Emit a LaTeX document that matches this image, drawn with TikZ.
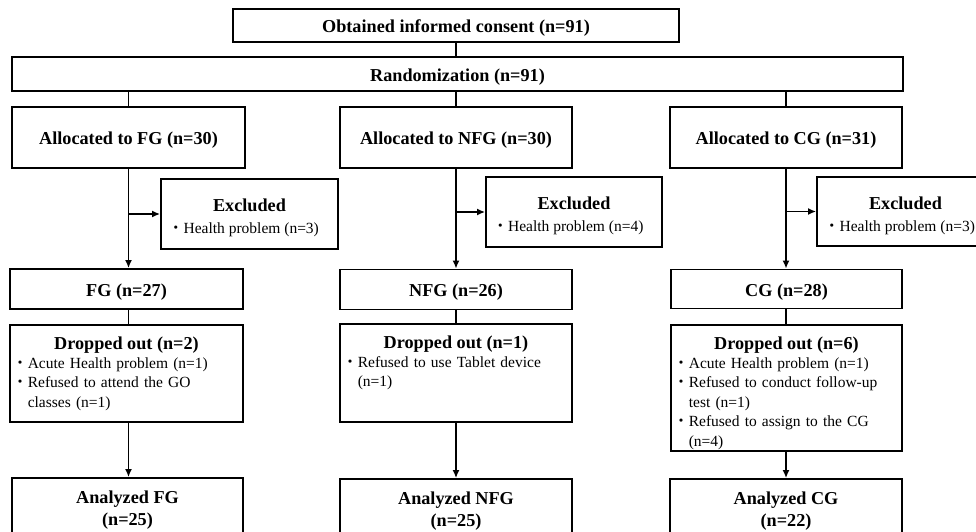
\documentclass[tikz,border=0pt]{standalone}
\usepackage{fontspec}
\setmainfont{Liberation Serif}
\newfontfamily\jpfont{Noto Sans CJK JP}
\usetikzlibrary{arrows.meta,calc}
\newcommand{\bigtxt}{\fontsize{18.2}{22}\selectfont\bfseries}
\newcommand{\smalltxt}{\fontsize{15.5}{19.5}\selectfont\mdseries}
\newcommand{\dotitem}[1]{\par\hangindent=15.5pt\hangafter=1\noindent\strut{\jpfont ・}#1\par}
\newcommand{\nl}{\hfil\break}
\newcommand{\exitem}[1]{\rule{0pt}{21pt}Excluded\\{\smalltxt{\jpfont ・}Health problem (n=#1)\hspace*{12pt}}}

\begin{document}
\begin{tikzpicture}[x=1pt,y=-1pt,
    box/.style={draw, line width=1.8pt, inner sep=0pt, align=center, font=\bigtxt},
    onebox/.style={box, text height=15.5pt, text depth=1pt},
    link/.style={line width=1.6pt},
    arr/.style={line width=1.6pt, -{Latex[length=8pt,width=7pt]}},
    list/.style={anchor=north west, text width=226pt, inner sep=0pt, font=\smalltxt}]
        \useasboundingbox (0,0) rectangle (976,531);
        \clip (0,0) rectangle (976,531);
        % top of the chart
        \node[onebox, minimum width=446pt, minimum height=33pt] (consent) at (456,25.5) {Obtained informed consent (n=91)};
        \node[onebox, minimum width=891pt, minimum height=34pt] (rand) at (457.5,74) {Randomization (n=91)};
        % allocation
        \node[onebox, minimum width=233pt, minimum height=61pt] (allocFG) at (128.5,137.5) {Allocated to FG (n=30)};
        \node[onebox, minimum width=232pt, minimum height=61pt] (allocNFG) at (456,137.5) {Allocated to NFG (n=30)};
        \node[onebox, minimum width=232pt, minimum height=61pt] (allocCG) at (786,137.5) {Allocated to CG (n=31)};
        % excluded
        \node[box, minimum width=177pt, minimum height=70pt] (exclFG) at (249.5,214) {\exitem{3}};
        \node[box, minimum width=176pt, minimum height=70pt] (exclNFG) at (574,212) {\exitem{4}};
        \node[box, minimum width=177pt, minimum height=69pt] (exclCG) at (905.5,211.5) {\exitem{3}};
        % groups
        \node[onebox, minimum width=233pt, minimum height=40pt] (FG) at (126.5,289) {FG (n=27)};
        \node[onebox, minimum width=232pt, minimum height=40pt] (NFG) at (456,289.5) {NFG (n=26)};
        \node[onebox, minimum width=231pt, minimum height=39pt] (CG) at (786.5,289) {CG (n=28)};
        % dropped out
        \node[box, minimum width=233pt, minimum height=97pt] (dropFG) at (126.5,373.5) {};
        \node[box, minimum width=232pt, minimum height=98pt] (dropNFG) at (456,373) {};
        \node[box, minimum width=231pt, minimum height=126pt] (dropCG) at (786.5,388) {};
        \node[font=\bigtxt] (dropFGhead) at ($(dropFG.north)+(0,21)$) {Dropped out (n=2)};
        \node[font=\bigtxt] (dropNFGhead) at ($(dropNFG.north)+(0,21)$) {Dropped out (n=1)};
        \node[font=\bigtxt] (dropCGhead) at ($(dropCG.north)+(0,21)$) {Dropped out (n=6)};
        \node[list] (dropFGlist) at ($(dropFG.north west)+(3,24.5)$) {\raggedright
            \dotitem{Acute Health problem (n=1)}\dotitem{Refused to attend the GO\nl classes (n=1)}};
        \node[list] (dropNFGlist) at ($(dropNFG.north west)+(3,24.5)$) {\raggedright
            \dotitem{Refused to use Tablet device\nl (n=1)}};
        \node[list] (dropCGlist) at ($(dropCG.north west)+(3,24.5)$) {\raggedright
            \dotitem{Acute Health problem (n=1)}\dotitem{Refused to conduct follow-up\nl test (n=1)}\dotitem{Refused to assign to the CG\nl (n=4)}};
        % analyzed
        \node[box, minimum width=231pt, minimum height=64pt] (anaFG) at (127.5,510) {Analyzed FG\\(n=25)};
        \node[box, minimum width=232pt, minimum height=64pt] (anaNFG) at (456,511) {Analyzed NFG\\(n=25)};
        \node[box, minimum width=232pt, minimum height=64pt] (anaCG) at (786,511) {Analyzed CG\\(n=22)};
        % connectors
        \draw[link] (consent.south) -- (consent.south |- rand.north);
        \foreach \g in {FG,NFG,CG} {
            \draw[link] (alloc\g.north |- rand.south) -- (alloc\g.north);
            \draw[arr] (alloc\g.south) -- (alloc\g.south |- \g.north);
            \draw[arr] (alloc\g.south |- excl\g.west) -- (excl\g.west);
            \draw[link] (alloc\g.south |- \g.south) -- (alloc\g.south |- drop\g.north);
            \draw[arr] (alloc\g.south |- drop\g.south) -- (alloc\g.south |- ana\g.north);
        }
\end{tikzpicture}
\end{document}
